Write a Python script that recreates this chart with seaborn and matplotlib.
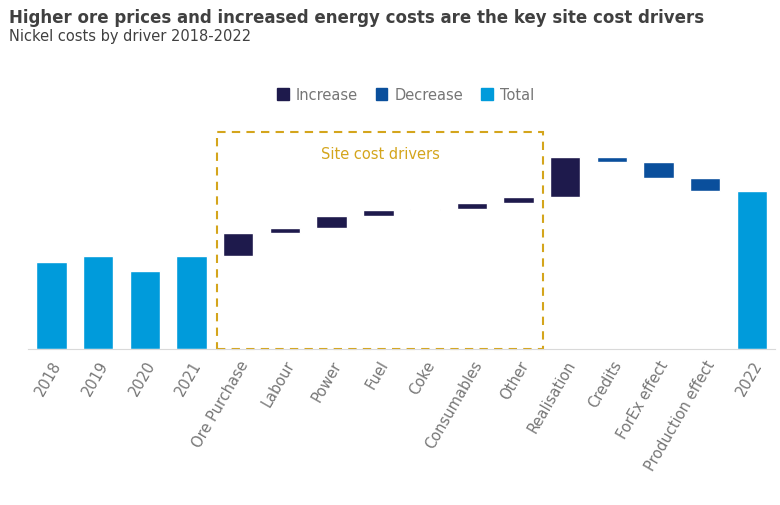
import numpy as np
import pandas as pd
import matplotlib
matplotlib.use("Agg")
import matplotlib.pyplot as plt
import seaborn as sns
from matplotlib.patches import Patch, Rectangle

categories = ["2018", "2019", "2020", "2021", "Ore Purchase", "Labour", "Power", "Fuel",
              "Coke", "Consumables", "Other", "Realisation", "Credits", "ForEx effect",
              "Production effect", "2022"]
totals_before = [87, 93, 78, 93]
deltas = [23, 5, 12, 6, 1, 6, 6, 40, -5, -16, -13]

C_INC, C_DEC, C_TOT = "#1e1a4c", "#0a4f9c", "#009bdb"

rows = []
for c, v in zip(categories[:4], totals_before):
    rows.append((c, 0, v, "Total"))
level = totals_before[-1]
for c, d in zip(categories[4:15], deltas):
    rows.append((c, min(level, level + d), abs(d), "Increase" if d > 0 else "Decrease"))
    level += d
rows.append((categories[15], 0, level, "Total"))
df = pd.DataFrame(rows, columns=["cat", "base", "h", "kind"])

sns.set_style("white")
fig = plt.figure(figsize=(7.8, 5.06), dpi=100)
ax = fig.add_axes([0.036, 0.308, 0.958, 0.455])
colors = {"Increase": C_INC, "Decrease": C_DEC, "Total": C_TOT}
for _, r in df.iterrows():
    sns.barplot(data=pd.DataFrame([r]), x="cat", y="h", order=categories,
                bottom=r["base"], color=colors[r["kind"]], width=0.65,
                saturation=1, ax=ax)

ax.set_xlim(-0.5, 15.5)
ax.set_ylim(0, 230)
ax.set_xlabel("")
ax.set_ylabel("")
ax.set_yticks([])
for s in ["left", "right", "top"]:
    ax.spines[s].set_visible(False)
ax.spines["bottom"].set_color("#d9d9d9")
ax.tick_params(axis="x", length=0, pad=6)
plt.setp(ax.get_xticklabels(), rotation=60, ha="right", rotation_mode="anchor",
         color="#767676", fontsize=10.5)

ax.add_patch(Rectangle((3.55, 0), 6.98, 217, fill=False, ec="#d4a51c",
                       ls=(0, (4, 3)), lw=1.5, clip_on=False))
ax.text(7.04, 195, "Site cost drivers", color="#d4a51c", ha="center", va="center", fontsize=10.5)

handles = [Patch(color=C_INC, label="Increase"), Patch(color=C_DEC, label="Decrease"),
           Patch(color=C_TOT, label="Total")]
leg = fig.legend(handles=handles, loc="center", bbox_to_anchor=(0.52, 0.811), ncol=3,
                 frameon=False, handlelength=0.8, handleheight=0.8, columnspacing=1.2,
                 handletextpad=0.5, fontsize=10.5)
for t in leg.get_texts():
    t.set_color("#767676")

fig.text(0.012, 0.965, "Higher ore prices and increased energy costs are the key site cost drivers",
         fontsize=12, fontweight="bold", color="#404040", va="center")
fig.text(0.012, 0.928, "Nickel costs by driver 2018-2022", fontsize=10.5, color="#404040", va="center")

fig.savefig("out.png", dpi=100)
